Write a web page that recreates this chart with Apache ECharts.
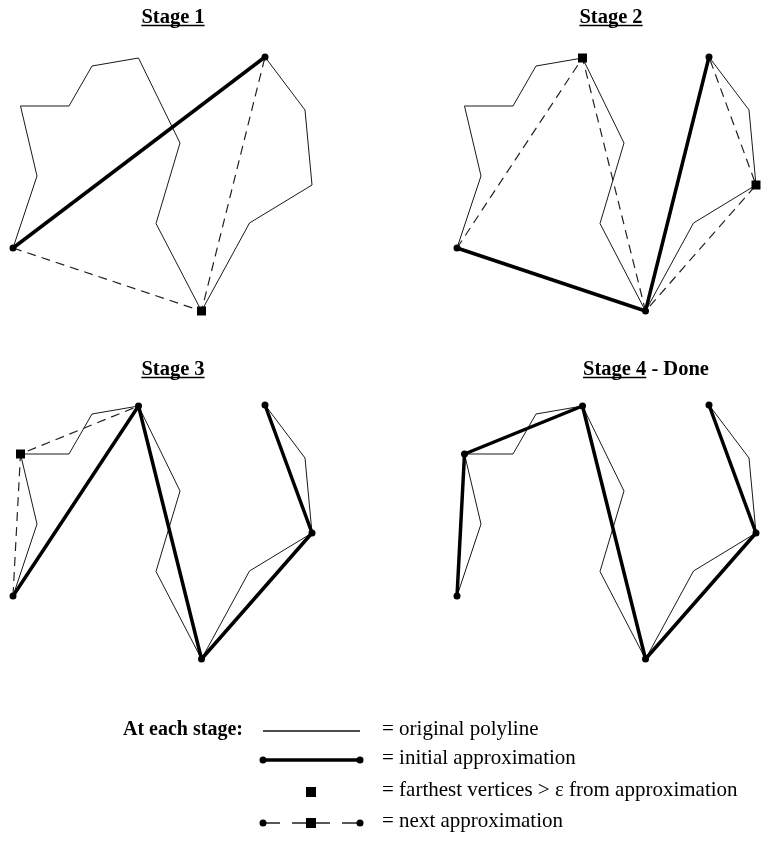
<!DOCTYPE html>
<html>
<head>
<meta charset="utf-8">
<script src="https://cdn.jsdelivr.net/npm/echarts@6/dist/echarts.min.js"></script>
<style>
html,body{margin:0;padding:0;background:#fff;}
#chart{width:764px;height:844px;}
</style>
</head>
<body>
<div id="chart"></div>
<script>
// Original polyline vertices (x right, y down)
const ptX = [13, 37, 20.5, 69, 92, 138.5, 180, 156, 201.5, 249.5, 312, 305, 265];
const ptY = [248, 176, 106, 106, 66, 58, 143, 223.5, 311, 223, 185, 110, 57];

const stageTitles = ['Stage 1', 'Stage 2', 'Stage 3', 'Stage 4'];
const stageSuffix = ['', '', '', ' - Done'];
// indices of vertices kept by the approximation at each stage
const initialApprox = [[0, 12], [0, 8, 12], [0, 5, 8, 10, 12], [0, 2, 5, 8, 10, 12]];
// farthest vertices > epsilon
const farthest = [[8], [5, 10], [2], []];
// next approximation (dashed)
const nextApprox = [[0, 8, 12], [0, 5, 8, 10, 12], [0, 2, 5], []];

const legendLabels = ['= original polyline', '= initial approximation',
  '= farthest vertices > \u03b5 from approximation', '= next approximation'];
const legendHeading = 'At each stage:';

const gridLeft = [0, 444, 0, 444];
const gridTop = [0, 0, 348, 348];
const SPAN = 320;

const pt = i => [ptX[i], ptY[i]];

const chart = echarts.init(document.getElementById('chart'), null, {renderer: 'canvas'});

const grids = [], xAxes = [], yAxes = [], series = [];
for (let s = 0; s < 4; s++) {
  grids.push({left: gridLeft[s], top: gridTop[s], width: SPAN, height: SPAN, containLabel: false});
  xAxes.push({type: 'value', gridIndex: s, min: 0, max: SPAN, show: false});
  yAxes.push({type: 'value', gridIndex: s, min: 0, max: SPAN, inverse: true, show: false});
  // original polyline
  series.push({
    type: 'line', xAxisIndex: s, yAxisIndex: s, data: ptX.map((_, i) => pt(i)),
    showSymbol: false, silent: true, animation: false, z: 2,
    lineStyle: {color: '#1a1a1a', width: 1}
  });
  // next approximation (dashed)
  if (nextApprox[s].length) {
    series.push({
      type: 'line', xAxisIndex: s, yAxisIndex: s, data: nextApprox[s].map(pt),
      showSymbol: false, silent: true, animation: false, z: 3,
      lineStyle: {color: '#222', width: 1.2, type: [9, 6]}
    });
  }
  // initial approximation (thick)
  series.push({
    type: 'line', xAxisIndex: s, yAxisIndex: s, data: initialApprox[s].map(pt),
    symbol: 'circle', symbolSize: 7, showSymbol: true, silent: true, animation: false, z: 4,
    itemStyle: {color: '#000', opacity: 1},
    lineStyle: {color: '#000', width: 3.5}
  });
  // farthest vertices
  if (farthest[s].length) {
    series.push({
      type: 'scatter', xAxisIndex: s, yAxisIndex: s, data: farthest[s].map(pt),
      symbol: 'rect', symbolSize: 9, silent: true, animation: false, z: 5,
      itemStyle: {color: '#000', opacity: 1}
    });
  }
}

// text measuring helper
const mctx = document.createElement('canvas').getContext('2d');
function tw(text, font) { mctx.font = font; return mctx.measureText(text).width; }

const FF = '"Liberation Serif", "DejaVu Serif", serif';
const titleFont = 'bold 20.5px ' + FF;
const suffixFont = 'bold 20.5px ' + FF;
const titleCx = [173, 611, 173, 646];
const titleCy = [17, 17, 369, 369];

const graphic = [];
for (let s = 0; s < 4; s++) {
  const w1 = tw(stageTitles[s], titleFont);
  const w2 = stageSuffix[s] ? tw(stageSuffix[s], suffixFont) : 0;
  const x0 = titleCx[s] - (w1 + w2) / 2;
  graphic.push({
    type: 'text', left: x0, top: titleCy[s] - 10,
    style: {text: stageTitles[s], font: titleFont, fill: '#000'}
  });
  graphic.push({
    type: 'line', shape: {x1: x0, y1: titleCy[s] + 8.5, x2: x0 + w1, y2: titleCy[s] + 8.5},
    style: {stroke: '#000', lineWidth: 1.4}
  });
  if (stageSuffix[s]) {
    graphic.push({
      type: 'text', left: x0 + w1, top: titleCy[s] - 10,
      style: {text: stageSuffix[s], font: suffixFont, fill: '#000'}
    });
  }
}

// legend
const legY = [731, 760, 792, 823];
const lx1 = 263, lx2 = 360, lmid = 311;
graphic.push({type: 'text', left: 123, top: legY[0] - 11,
  style: {text: legendHeading, font: 'bold 20px ' + FF, fill: '#000'}});
graphic.push({type: 'line', shape: {x1: lx1, y1: legY[0], x2: lx2, y2: legY[0]},
  style: {stroke: '#111', lineWidth: 1.3}});
graphic.push({type: 'line', shape: {x1: lx1, y1: legY[1], x2: lx2, y2: legY[1]},
  style: {stroke: '#000', lineWidth: 3.5}});
graphic.push({type: 'circle', shape: {cx: lx1, cy: legY[1], r: 3.5}, style: {fill: '#000'}});
graphic.push({type: 'circle', shape: {cx: lx2, cy: legY[1], r: 3.5}, style: {fill: '#000'}});
graphic.push({type: 'rect', shape: {x: lmid - 5, y: legY[2] - 5, width: 10, height: 10}, style: {fill: '#000'}});
graphic.push({type: 'line', shape: {x1: lx1, y1: legY[3], x2: lx2, y2: legY[3]},
  style: {stroke: '#222', lineWidth: 1.4, lineDash: [17, 12, 38, 12, 18, 0]}});
graphic.push({type: 'circle', shape: {cx: lx1, cy: legY[3], r: 3.5}, style: {fill: '#000'}});
graphic.push({type: 'circle', shape: {cx: lx2, cy: legY[3], r: 3.5}, style: {fill: '#000'}});
graphic.push({type: 'rect', shape: {x: lmid - 5, y: legY[3] - 5, width: 10, height: 10}, style: {fill: '#000'}});
for (let i = 0; i < 4; i++) {
  graphic.push({type: 'text', left: 382, top: legY[i] - 12,
    style: {text: legendLabels[i], font: '21px ' + FF, fill: '#000'}});
}

chart.setOption({
  animation: false,
  backgroundColor: '#fff',
  grid: grids, xAxis: xAxes, yAxis: yAxes, series: series,
  graphic: graphic
});
</script>
</body>
</html>
